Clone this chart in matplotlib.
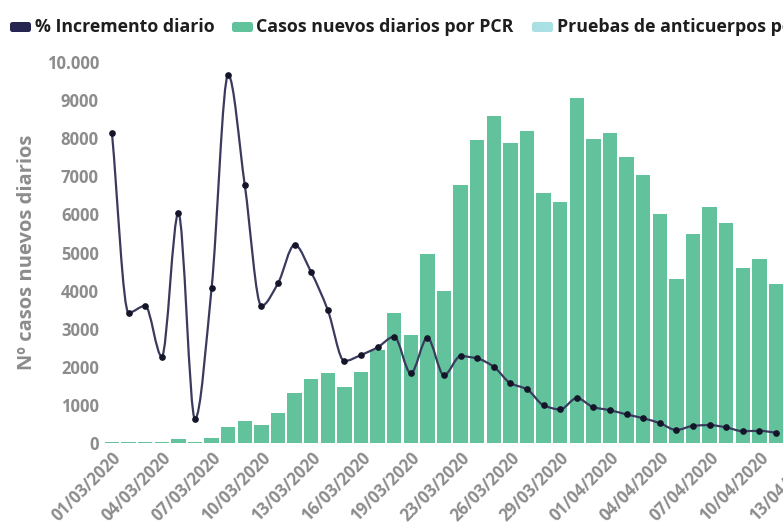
import matplotlib
matplotlib.use("Agg")
import matplotlib.pyplot as plt
from matplotlib.path import Path
from matplotlib.patches import PathPatch, FancyBboxPatch

# daily labels on the category axis (22/03 has no entry in the source)
dates = [
    "01/03/2020", "02/03/2020", "03/03/2020", "04/03/2020", "05/03/2020",
    "06/03/2020", "07/03/2020", "08/03/2020", "09/03/2020", "10/03/2020",
    "11/03/2020", "12/03/2020", "13/03/2020", "14/03/2020", "15/03/2020",
    "16/03/2020", "17/03/2020", "18/03/2020", "19/03/2020", "20/03/2020",
    "21/03/2020", "23/03/2020", "24/03/2020", "25/03/2020", "26/03/2020",
    "27/03/2020", "28/03/2020", "29/03/2020", "30/03/2020", "31/03/2020",
    "01/04/2020", "02/04/2020", "03/04/2020", "04/04/2020", "05/04/2020",
    "06/04/2020", "07/04/2020", "08/04/2020", "09/04/2020", "10/04/2020",
    "11/04/2020", "12/04/2020", "13/04/2020",
]

# new PCR cases per day (visible part of the chart)
casos_pcr = [
    25, 25, 35, 30, 110, 15, 120, 430, 580, 480,
    780, 1320, 1670, 1830, 1480, 1870, 2440, 3420, 2830, 4950,
    3990, 6770, 7950, 8590, 7880, 8200, 6560, 6330, 9050, 7980,
    8130, 7500, 7030, 6020, 4300, 5490, 6200, 5770, 4590, 4830,
    4170,
]

# daily % increment (right scale, off the picture)
incremento = [
    81.3, 34.2, 36.0, 22.7, 60.3, 6.3, 40.6, 96.6, 67.7, 36.0,
    41.9, 52.0, 44.8, 34.9, 21.5, 23.1, 25.1, 27.9, 18.3, 27.6,
    17.8, 22.8, 22.2, 20.0, 15.7, 14.1, 9.9, 8.8, 11.8, 9.4,
    8.6, 7.5, 6.5, 5.2, 3.4, 4.5, 4.7, 4.1, 3.1, 3.2,
    2.7,
]

yticks = [0, 1000, 2000, 3000, 4000, 5000, 6000, 7000, 8000, 9000, 10000]
ytick_labels = ["0", "1000", "2000", "3000", "4000", "5000", "6000",
                "7000", "8000", "9000", "10.000"]

GREEN = "#62c29c"
NAVY = "#252550"
CYAN = "#a9e0e3"
GREY = "#8c8c8c"
FONT = ["Open Sans", "DejaVu Sans"]


def monotone_path(x, y):
    """Monotone cubic (Fritsch-Butland slopes) as a Bezier path."""
    n = len(x)
    d = [(y[k + 1] - y[k]) / (x[k + 1] - x[k]) for k in range(n - 1)]
    m = [d[0]] + [0.0] * (n - 2) + [d[-1]]
    for k in range(1, n - 1):
        if d[k - 1] * d[k] > 0:
            m[k] = 2 * d[k - 1] * d[k] / (d[k - 1] + d[k])
    verts = [(x[0], y[0])]
    codes = [Path.MOVETO]
    for k in range(n - 1):
        h = (x[k + 1] - x[k]) / 3
        verts += [(x[k] + h, y[k] + m[k] * h),
                  (x[k + 1] - h, y[k + 1] - m[k + 1] * h),
                  (x[k + 1], y[k + 1])]
        codes += [Path.CURVE4] * 3
    return Path(verts, codes)


W, H = 783, 526
fig = plt.figure(figsize=(W / 100, H / 100), dpi=100)
plt.rcParams["font.family"] = FONT

# axes extend past the right edge, the source image is cropped there
ax = fig.add_axes([104.5 / W, 83 / H, 713 / W, 381 / H])
xs = list(range(len(casos_pcr)))
ax.bar(xs, casos_pcr, width=0.87, color=GREEN, zorder=2)
ax.set_xlim(-0.45, 42.5)
ax.set_ylim(0, 10000)
ax.set_yticks(yticks)
ax.set_yticklabels(ytick_labels)
tick_pos = list(range(0, len(dates), 3))
ax.set_xticks(tick_pos)
ax.set_xticklabels([dates[i] for i in tick_pos], rotation=45, ha="right",
                   va="top", rotation_mode="anchor")
ax.tick_params(length=0, labelsize=12, labelcolor=GREY, pad=4)
for lab in ax.get_xticklabels() + ax.get_yticklabels():
    lab.set_fontweight("bold")
for s in ax.spines.values():
    s.set_visible(False)
ax.set_ylabel("Nº casos nuevos diarios", fontsize=14.5, fontweight="bold",
              color=GREY, labelpad=7)

# smoothed line for the % increment on a hidden twin scale
ax2 = ax.twinx()
ax2.set_ylim(0, 100)
ax2.set_axis_off()
lx = list(range(len(incremento)))
ax2.add_patch(PathPatch(monotone_path(lx, incremento), fill=False,
                        edgecolor="#3a3a5e", linewidth=1.6, zorder=3))
ax2.plot(lx, incremento, "o", color="#15152a", markersize=3.8, zorder=4)

# legend drawn by hand along the top
entries = [
    (10, 35, NAVY, "% Incremento diario"),
    (232, 256, GREEN, "Casos nuevos diarios por PCR"),
    (532, 557, CYAN, "Pruebas de anticuerpos positivas"),
]
for px, tx, col, label in entries:
    fig.patches.append(FancyBboxPatch(
        (px / 100, (H - 32) / 100), 0.21, 0.10,
        boxstyle="round,pad=0,rounding_size=0.025",
        transform=fig.dpi_scale_trans, facecolor=col, edgecolor="none"))
    fig.text(tx / W, (H - 27) / H, label, fontsize=12.8, fontweight="bold",
             color="#1e1e1e", va="center", ha="left")

fig.savefig("out.png", dpi=100)
